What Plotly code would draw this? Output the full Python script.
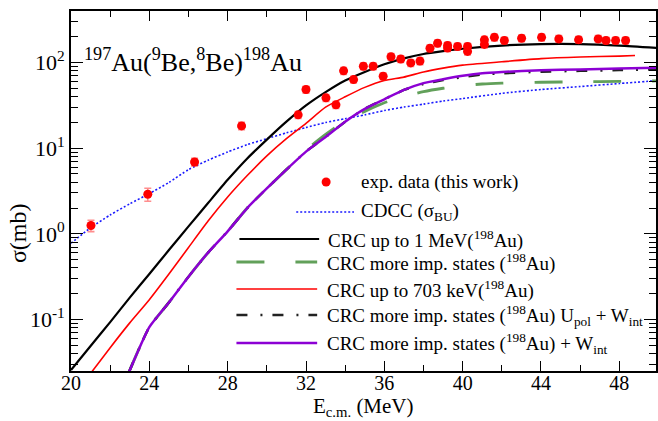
import plotly.graph_objects as go

# ---------------- data ----------------
E_exp = [21.02, 23.92, 26.31, 28.71, 31.60, 32.00, 33.02, 33.53, 33.92, 34.43, 34.93, 35.43,
         35.94, 36.34, 36.84, 37.35, 37.82, 38.33, 38.72, 39.23, 39.23, 39.74, 40.25, 40.25,
         41.11, 41.11, 41.62, 42.13, 43.01, 44.03, 44.91, 45.92, 46.92, 47.32, 47.81, 48.32]
sig_exp = [1.25, 2.9, 6.9, 18.2, 24.5, 48.4, 38.7, 32.1, 80, 63.3, 90.6, 90.6,
           69.2, 117, 110, 99, 104, 147, 168, 158, 148, 154, 154, 135,
           184, 163, 197, 181, 192, 197, 189, 185, 189, 181, 181, 181]
err_exp = [0.19, 0.5, 0.7, 1.8, 2.2, 4.4, 3.5, 2.9, 7.2, 5.7, 8.2, 8.2,
           6.2, 10.5, 9.9, 8.9, 9.4, 13.2, 15.1, 14.2, 13.3, 13.9, 13.9, 12.2,
           16.6, 14.7, 17.7, 16.3, 17.3, 17.7, 17.0, 16.7, 17.0, 16.3, 16.3, 16.3]

E_cdcc = [20, 21, 22, 23, 24, 25, 26, 27, 28, 29, 30, 31, 32, 33, 34, 35, 36, 37, 38, 39, 40,
          42, 44, 46, 48, 50]
sig_cdcc = [0.776, 1.175, 1.66, 2.24, 2.95, 3.98, 5.62, 7.24, 9.02, 11.0, 12.9, 15.1, 17.4,
            19.95, 22.1, 24.5, 27.5, 30.2, 32.7, 35.5, 38.0, 43.7, 48.4, 52.5, 56.9, 61.7]

E_crc1 = [20, 21, 22, 23, 24, 25, 26, 27, 28, 29, 30, 31, 32, 33, 34, 35, 36, 37, 38, 39, 40,
          42, 44, 46, 48, 50]
sig_crc1 = [0.0257, 0.049, 0.093, 0.18, 0.339, 0.646, 1.22, 2.29, 4.27, 7.59, 12.6, 20.4,
            31.6, 45.2, 61.7, 77.6, 95.5, 112, 126, 136, 145, 158, 164, 164, 158, 148]

E_more = [22.95, 23.5, 24, 25, 26, 27, 28, 29, 30, 31, 32, 33, 34, 35, 36, 37, 38, 39, 40,
          41, 42, 44, 46, 48, 50]
sig_more = [0.024, 0.0468, 0.0813, 0.158, 0.316, 0.603, 1.07, 2.0, 3.39, 5.62, 9.5, 14.5,
            20.9, 26.9, 33.9, 39.8, 45.7, 50.1, 53.7, 56.2, 57.5, 58.9, 59.6, 60.3, 61.0]

E_703 = [21.0, 22, 23, 24, 25, 26, 27, 28, 29, 30, 31, 32, 33, 34, 35, 36, 37, 38, 39, 40,
         42, 44, 46, 48, 48.8]
sig_703 = [0.0234, 0.0468, 0.0912, 0.170, 0.339, 0.692, 1.41, 2.69, 4.79, 8.13, 12.9, 19.5,
           30.1, 39.8, 51.3, 61.7, 67.6, 77.6, 86.1, 93.3, 102, 111, 116, 119, 121]

E_upol = [22.95, 23.5, 24, 25, 26, 27, 28, 29, 30, 31, 32, 33, 34, 35, 36, 37, 38, 39, 40,
          41, 42, 44, 46, 48, 50]
sig_upol = [0.024, 0.0468, 0.0813, 0.158, 0.316, 0.603, 1.07, 2.0, 3.39, 5.62, 9.12, 13.5,
            20.4, 28.8, 37.2, 47.9, 56.2, 62.4, 67.6, 72.4, 75.0, 78.2, 80.0, 81.7, 83.2]

E_wint = [22.95, 23.5, 24, 25, 26, 27, 28, 29, 30, 31, 32, 33, 34, 35, 36, 37, 38, 39, 40,
          41, 42, 44, 46, 48, 50]
sig_wint = [0.024, 0.0468, 0.0813, 0.158, 0.316, 0.603, 1.07, 2.0, 3.39, 5.62, 9.12, 13.5,
            20.4, 28.8, 37.2, 47.9, 57.5, 63.8, 70.0, 75.0, 77.6, 81.3, 83.2, 85.1, 87.1]

x_ticks = [20, 24, 28, 32, 36, 40, 44, 48]
x_minor = [22, 26, 30, 34, 38, 42, 46]
y_ticks = [0.1, 1, 10, 100]
y_ticktext = ["10<sup>-1</sup>", "10<sup>0</sup>", "10<sup>1</sup>", "10<sup>2</sup>"]

legend_labels = [
    "exp. data (this work)",
    "CDCC (σ<sub>BU</sub>)",
    "CRC up to 1 MeV(<sup>198</sup>Au)",
    "CRC more imp. states (<sup>198</sup>Au)",
    "CRC up to 703 keV(<sup>198</sup>Au)",
    "CRC more imp. states (<sup>198</sup>Au) U<sub>pol</sub> + W<sub>int</sub>",
    "CRC more imp. states (<sup>198</sup>Au) + W<sub>int</sub>",
]

# ---------------- styles ----------------
FONT = "Liberation Serif, Times New Roman, serif"
RED = "#ff0000"
BLUE = "#1a1aff"
GREEN = "#62a05a"
PURPLE = "#8c00d4"

styles = [
    None,
    dict(color=BLUE, width=1.6, dash="2px,2px"),
    dict(color="black", width=2.2),
    dict(color=GREEN, width=2.8, dash="28px,31px"),
    dict(color=RED, width=1.6),
    dict(color="#222222", width=2.5, dash="11px,13px,2px,10px"),
    dict(color=PURPLE, width=2.5),
]

W, H = 658, 421
ML, MR, MT, MB = 71, 0, 11, 50
PW, PH = W - ML - MR, H - MT - MB


def px2paper(xp, yp):
    return (xp - ML) / PW, (H - MB - yp) / PH


fig = go.Figure()

curves = [
    (E_cdcc, sig_cdcc, styles[1]),
    (E_more, sig_more, styles[3]),
    (E_upol, sig_upol, styles[5]),
    (E_wint, sig_wint, styles[6]),
    (E_703, sig_703, styles[4]),
    (E_crc1, sig_crc1, styles[2]),
]
for ex, sy, st in curves:
    fig.add_trace(go.Scatter(x=ex, y=sy, mode="lines", line=dict(shape="spline", smoothing=0.6, **st),
                             showlegend=False, hoverinfo="skip"))

fig.add_trace(go.Scatter(
    x=E_exp, y=sig_exp, mode="markers",
    marker=dict(color=RED, size=9),
    error_y=dict(type="data", array=err_exp, color="rgba(255,50,50,0.55)", thickness=1.6, width=3.5),
    showlegend=False))

# ---------------- manual legend ----------------
shapes = []
annotations = []
leg_rows = [  # (sample x0, sample x1, y, text x)
    (327, 327, 182, 360),
    (297, 355, 212, 360),
    (240, 320, 239, 327),
    (237, 318, 262, 326),
    (237, 318, 289, 326),
    (237, 318, 315, 326),
    (237, 318, 343, 326),
]
for i, (x0, x1, yy, xt) in enumerate(leg_rows):
    if i == 0:
        cx, cy = px2paper(x0, yy)
        shapes.append(dict(type="circle", xref="paper", yref="paper", xsizemode="pixel",
                           ysizemode="pixel", xanchor=cx, yanchor=cy, x0=-4.5, x1=4.5,
                           y0=-4.5, y1=4.5, fillcolor=RED, line=dict(color=RED, width=0)))
    else:
        a0, b0 = px2paper(x0, yy)
        a1, _ = px2paper(x1, yy)
        shapes.append(dict(type="line", xref="paper", yref="paper", x0=a0, x1=a1, y0=b0, y1=b0,
                           line=styles[i]))
    tx, ty = px2paper(xt, yy)
    annotations.append(dict(text=legend_labels[i], xref="paper", yref="paper", x=tx, y=ty,
                            xanchor="left", yanchor="middle", showarrow=False,
                            font=dict(family=FONT, size=19, color="black")))

# reaction label
tx, ty = px2paper(82, 61)
annotations.append(dict(text="<sup>197</sup>Au(<sup>9</sup>Be,<sup>8</sup>Be)<sup>198</sup>Au",
                        xref="paper", yref="paper", x=tx, y=ty, xanchor="left", yanchor="middle",
                        showarrow=False, font=dict(family=FONT, size=26, color="black")))

# axis titles
annotations.append(dict(text="E<sub>c.m.</sub> (MeV)", xref="paper", yref="paper", x=0.5,
                        y=0, xanchor="center", yanchor="middle", yshift=-36, showarrow=False,
                        font=dict(family=FONT, size=21, color="black")))
annotations.append(dict(text="σ(mb)", xref="paper", yref="paper", x=0, y=0.383,
                        xanchor="center", yanchor="middle", xshift=-53, textangle=-90,
                        showarrow=False, font=dict(family=FONT, size=24, color="black")))

y_minor = [m * 10 ** d for d in (-2, -1, 0, 1, 2) for m in range(2, 10)]

fig.update_layout(
    width=W, height=H,
    margin=dict(l=ML, r=MR, t=MT, b=MB),
    paper_bgcolor="white", plot_bgcolor="white",
    font=dict(family=FONT, size=22, color="black"),
    shapes=shapes, annotations=annotations, showlegend=False,
    xaxis=dict(range=[20, 20 + PW / 19.65], tickvals=x_ticks, ticks="inside", ticklen=10,
               tickwidth=1.4, tickcolor="black", showline=True, linewidth=1.6, linecolor="black",
               mirror="ticks", showgrid=False, zeroline=False, ticklabelstandoff=-7,
               minor=dict(tickvals=x_minor, ticks="inside", ticklen=6, tickwidth=1.2,
                          tickcolor="black", showgrid=False),
               tickfont=dict(family=FONT, size=20)),
    yaxis=dict(type="log", range=[-1.602, 2.602], tickvals=y_ticks, ticktext=y_ticktext,
               ticks="inside", ticklen=12, tickwidth=1.4, tickcolor="black", showline=True,
               linewidth=1.6, linecolor="black", mirror="ticks", showgrid=False, zeroline=False,
               minor=dict(tickvals=y_minor, ticks="inside", ticklen=7, tickwidth=1.2,
                          tickcolor="black", showgrid=False),
               tickfont=dict(family=FONT, size=22)),
)

fig.write_html("out.html")
